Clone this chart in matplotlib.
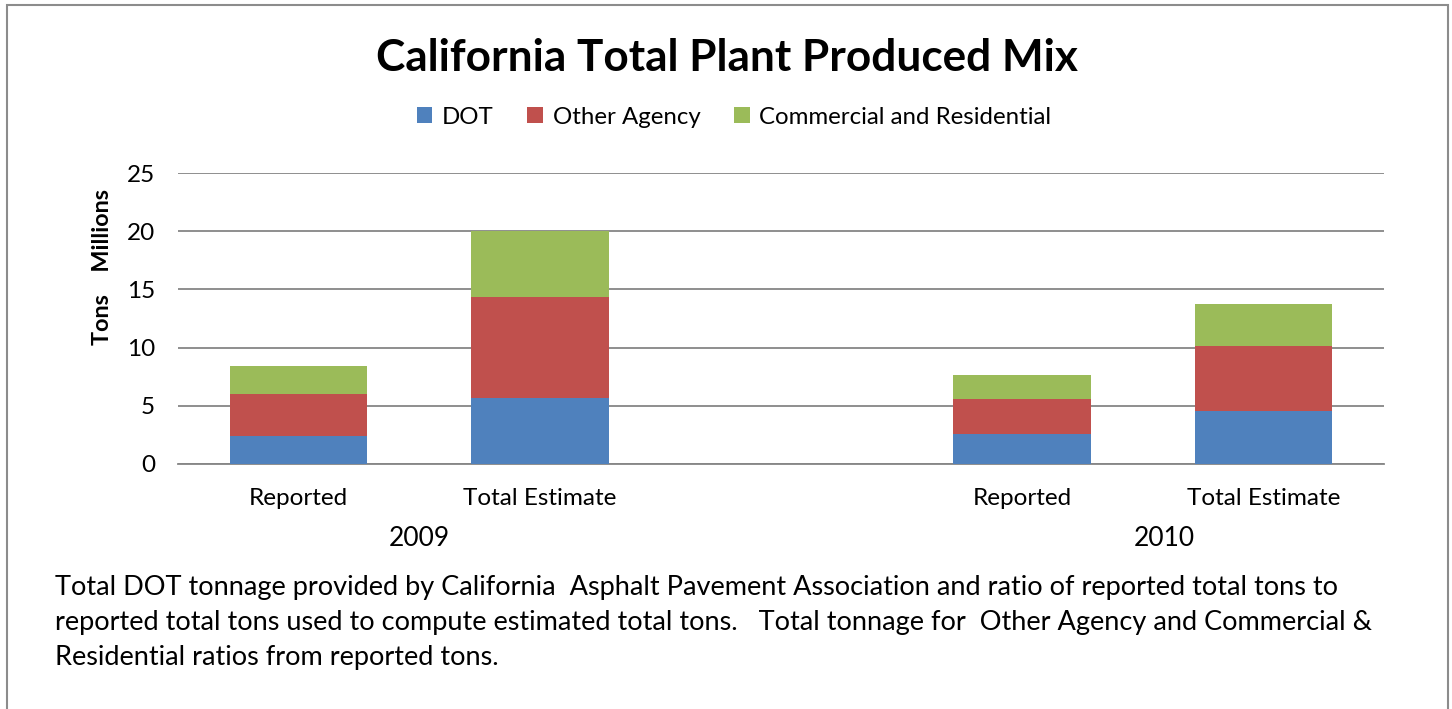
import matplotlib
matplotlib.use("Agg")
import matplotlib.pyplot as plt
from matplotlib.patches import Rectangle

categories = ["Reported", "Total Estimate", "Reported", "Total Estimate"]
years = ["2009", "2010"]
series_names = ["DOT", "Other Agency", "Commercial and Residential"]
dot = [2.41, 5.67, 2.55, 4.55]
other = [3.60, 8.68, 3.06, 5.59]
commercial = [2.41, 5.67, 2.06, 3.63]
colors = ["#4F81BD", "#C0504D", "#9BBB59"]
yticks = [0, 5, 10, 15, 20, 25]

plt.rcParams['font.family'] = ['Lato', 'DejaVu Sans']

W, H = 1452, 709
fig = plt.figure(figsize=(W / 100, H / 100), dpi=100)

# outer frame
fig.patches.append(Rectangle((7 / W, -0.05), (1448 - 7) / W, (H - 5) / H + 0.05,
                             transform=fig.transFigure, fill=False,
                             edgecolor="#8c8c8c", linewidth=1.5))

ax = fig.add_axes([178 / W, 1 - 464 / H, (1384 - 178) / W, (464 - 173) / H])
pos = [0, 1, 3, 4]
width = 0.57
bottom2 = [a + b for a, b in zip(dot, other)]
ax.bar(pos, dot, width, color=colors[0], label=series_names[0], zorder=3)
ax.bar(pos, other, width, bottom=dot, color=colors[1], label=series_names[1], zorder=3)
ax.bar(pos, commercial, width, bottom=bottom2, color=colors[2], label=series_names[2], zorder=3)

ax.set_xlim(-0.5, 4.5)
ax.set_ylim(0, 25)
ax.set_yticks(yticks)
ax.set_yticklabels([str(t) for t in yticks], fontsize=17.5)
ax.grid(axis="y", color="#868686", linewidth=1.3, zorder=0)
for s in ["top", "right", "left"]:
    ax.spines[s].set_visible(False)
ax.spines["bottom"].set_color("#868686")
ax.spines["bottom"].set_linewidth(1.3)
ax.tick_params(axis="y", length=0, pad=16.5)
ax.tick_params(axis="x", length=0, pad=17)
ax.set_xticks(pos)
ax.set_xticklabels(categories, fontsize=17.5)

fig.text(103 / W, 1 - 267 / H, "Tons    Millions", rotation=90, ha="center",
         va="center", fontsize=16.8, fontweight="bold")

# year labels
ax.text(0.5, -0.255, years[0], transform=ax.get_xaxis_transform(), ha="center",
        va="center", fontsize=19)
ax.text(3.59, -0.255, years[1], transform=ax.get_xaxis_transform(), ha="center",
        va="center", fontsize=19)

fig.text(727 / W, 1 - 58 / H, "California Total Plant Produced Mix", ha="center",
         va="center", fontsize=31.8, fontweight="bold")

leg = ax.legend(loc="center", ncol=3, frameon=False, fontsize=17.3,
                handlelength=0.65, handleheight=0.65,
                columnspacing=1.4, handletextpad=0.4)
leg.set_bbox_to_anchor((734 / W, 1 - 117 / H), transform=fig.transFigure)

note = ("Total DOT tonnage provided by California  Asphalt Pavement Association and ratio of reported total tons to\n"
        "reported total tons used to compute estimated total tons.   Total tonnage for  Other Agency and Commercial &\n"
        "Residential ratios from reported tons.")
fig.text(55 / W, 1 - 575 / H, note, ha="left", va="top", fontsize=19.5, linespacing=1.5)

fig.savefig("out.png", dpi=100)
